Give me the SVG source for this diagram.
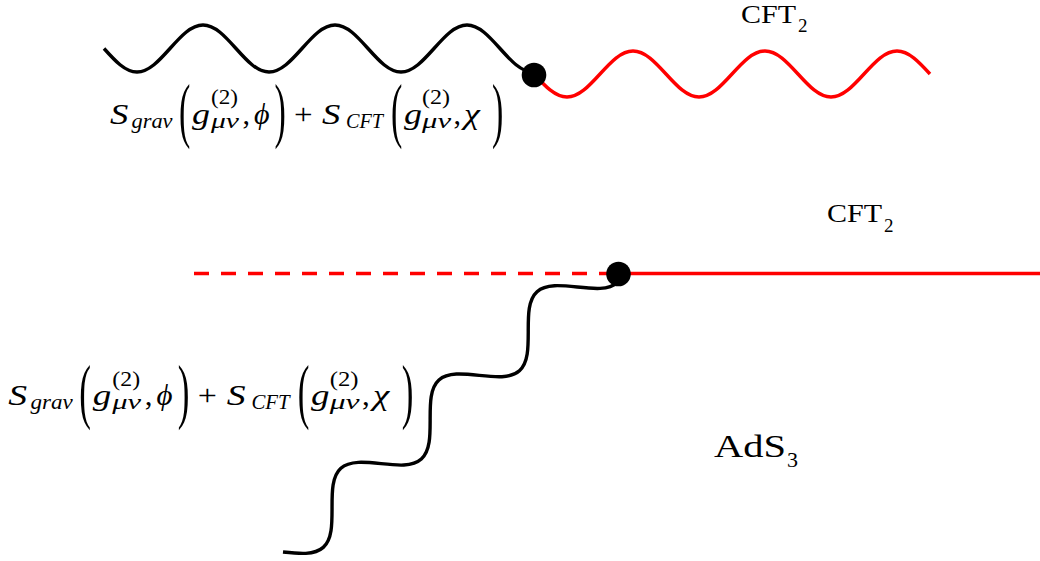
<svg xmlns="http://www.w3.org/2000/svg" xmlns:xlink="http://www.w3.org/1999/xlink" width="1040" height="561" viewBox="0 0 1040 561">
<style>
.wave{fill:none;stroke-width:3.4;stroke-linecap:butt;stroke-linejoin:round}
.blk{stroke:#000}
.red{stroke:#ff0000}
.dot{fill:#000}
</style>
<defs>
<path id="wave" d="M0,0 C10.75,12 21.05,23.5 33,23.5 S55.25,12 66,0 S87.05,-23.5 99,-23.5 S121.25,-12 132,0 S153.05,23.5 165,23.5 S187.25,12 198,0 S219.05,-23.5 231,-23.5 S253.25,-12 264,0 S285.05,23.5 297,23.5 S319.25,12 330,0 S351.05,-23.5 363,-23.5 S385.25,-12 396,0 S417.05,23.5 429,23.5"/>
</defs>

<g id="connectors">
<use id="top-graviton-wave" xlink:href="#wave" href="#wave" class="wave blk" transform="translate(104,48.5)"/>
<path id="top-cft-wave" class="wave red" transform="translate(534,74)" d="M0,0 C10.75,11.8 21.05,23 33,23 S55.25,11.8 66,0 S87.05,-23 99,-23 S121.25,-11.8 132,0 S153.05,23 165,23 S187.25,11.8 198,0 S219.05,-23 231,-23 S253.25,-11.8 264,0 S285.05,23 297,23 S319.25,11.8 330,0 S351.05,-23 363,-23 S385.25,-11.8 396,0"/>
<line id="bottom-dashed" x1="194" y1="273.5" x2="618" y2="273.5" stroke="#ff0000" stroke-width="3.6" stroke-dasharray="15 12"/>
<line id="bottom-solid" x1="618" y1="273.5" x2="1040" y2="273.5" stroke="#ff0000" stroke-width="3.6"/>
<use id="bottom-graviton-wave" xlink:href="#wave" href="#wave" class="wave blk" transform="translate(283,552) rotate(-42)"/>
</g>

<g id="node-top-junction"><circle class="dot" cx="534" cy="75" r="12.3"/></g>
<g id="node-bottom-junction"><circle class="dot" cx="618.5" cy="274" r="12.3"/></g>

<g id="label-top-action" transform="translate(110,123.5)" font-family="'Liberation Serif', 'DejaVu Serif', serif" fill="#000">
<text font-style="italic" font-size="30" transform="scale(1.22,1)">S</text>
<text font-style="italic" font-size="21" x="21.5" y="4" textLength="41" lengthAdjust="spacingAndGlyphs">grav</text>
<text font-size="34" transform="translate(69,10.2) scale(1,2.1)">(</text>
<text font-style="italic" font-size="30" transform="translate(82,0) scale(1.2,1)">g</text>
<text font-size="21" x="101" y="-19.5" textLength="27" lengthAdjust="spacingAndGlyphs">(2)</text>
<text font-style="italic" font-size="21" x="101" y="4" textLength="28" lengthAdjust="spacingAndGlyphs">μν</text>
<text font-size="30" x="132.5" y="0">,</text>
<text font-style="italic" font-size="30" x="144" y="0">ϕ</text>
<text font-size="34" transform="translate(164.5,10.2) scale(1,2.1)">)</text>
<text font-size="30" transform="translate(184,0) scale(1.1,1)">+</text>
<text font-style="italic" font-size="30" transform="translate(212,0) scale(1.22,1)">S</text>
<text font-style="italic" font-size="21" x="236" y="4" textLength="37" lengthAdjust="spacingAndGlyphs">CFT</text>
<text font-size="34" transform="translate(281,10.2) scale(1,2.1)">(</text>
<text font-style="italic" font-size="30" transform="translate(294,0) scale(1.2,1)">g</text>
<text font-size="21" x="312" y="-19.5" textLength="28" lengthAdjust="spacingAndGlyphs">(2)</text>
<text font-style="italic" font-size="21" x="312" y="4" textLength="29" lengthAdjust="spacingAndGlyphs">μν</text>
<text font-size="30" x="343.5" y="0">,</text>
<text font-style="italic" font-size="30" transform="translate(354,0) scale(1.2,1)">χ</text>
<text font-size="34" transform="translate(382,10.2) scale(1,2.1)">)</text>
</g>

<g id="label-bottom-action" transform="translate(8.3,405) scale(1.03,1)" font-family="'Liberation Serif', 'DejaVu Serif', serif" fill="#000">
<text font-style="italic" font-size="30" transform="scale(1.22,1)">S</text>
<text font-style="italic" font-size="21" x="21.5" y="4" textLength="41" lengthAdjust="spacingAndGlyphs">grav</text>
<text font-size="34" transform="translate(69,10.2) scale(1,2.1)">(</text>
<text font-style="italic" font-size="30" transform="translate(82,0) scale(1.2,1)">g</text>
<text font-size="21" x="101" y="-19.5" textLength="27" lengthAdjust="spacingAndGlyphs">(2)</text>
<text font-style="italic" font-size="21" x="101" y="4" textLength="28" lengthAdjust="spacingAndGlyphs">μν</text>
<text font-size="30" x="132.5" y="0">,</text>
<text font-style="italic" font-size="30" x="144" y="0">ϕ</text>
<text font-size="34" transform="translate(164.5,10.2) scale(1,2.1)">)</text>
<text font-size="30" transform="translate(184,0) scale(1.1,1)">+</text>
<text font-style="italic" font-size="30" transform="translate(212,0) scale(1.22,1)">S</text>
<text font-style="italic" font-size="21" x="236" y="4" textLength="37" lengthAdjust="spacingAndGlyphs">CFT</text>
<text font-size="34" transform="translate(281,10.2) scale(1,2.1)">(</text>
<text font-style="italic" font-size="30" transform="translate(294,0) scale(1.2,1)">g</text>
<text font-size="21" x="312" y="-19.5" textLength="28" lengthAdjust="spacingAndGlyphs">(2)</text>
<text font-style="italic" font-size="21" x="312" y="4" textLength="29" lengthAdjust="spacingAndGlyphs">μν</text>
<text font-size="30" x="343.5" y="0">,</text>
<text font-style="italic" font-size="30" transform="translate(354,0) scale(1.2,1)">χ</text>
<text font-size="34" transform="translate(382,10.2) scale(1,2.1)">)</text>
</g>

<g id="label-top-cft" font-family="'Liberation Serif', 'DejaVu Serif', serif" fill="#000">
<text x="741" y="22.7" font-size="26" textLength="55" lengthAdjust="spacingAndGlyphs">CFT</text>
<text x="798" y="32" font-size="19">2</text>
</g>
<g id="label-bottom-cft" font-family="'Liberation Serif', 'DejaVu Serif', serif" fill="#000">
<text x="827" y="222" font-size="26" textLength="55" lengthAdjust="spacingAndGlyphs">CFT</text>
<text x="884" y="232" font-size="19">2</text>
</g>
<g id="label-ads" font-family="'Liberation Serif', 'DejaVu Serif', serif" fill="#000">
<text x="714" y="457" font-size="32" textLength="72" lengthAdjust="spacingAndGlyphs">AdS</text>
<text x="787" y="466.7" font-size="22">3</text>
</g>
</svg>
